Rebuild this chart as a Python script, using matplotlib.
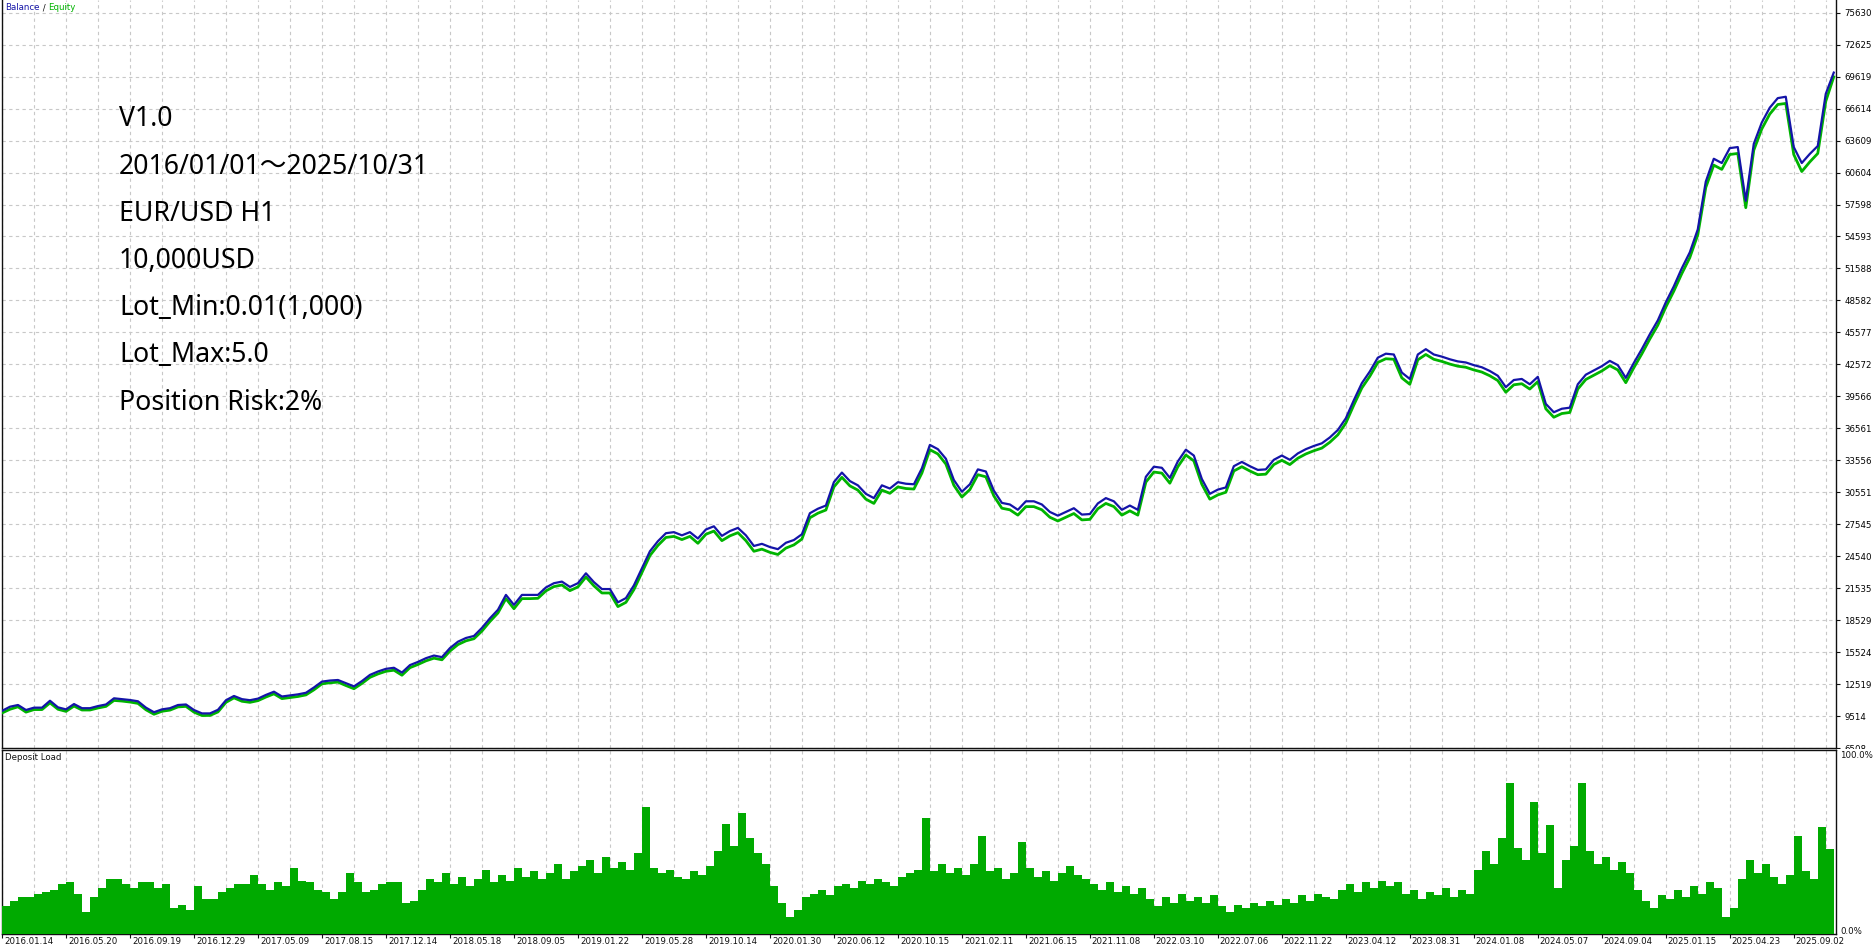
import numpy as np
import matplotlib
matplotlib.use("Agg")
import matplotlib.pyplot as plt
from matplotlib.patches import Rectangle
from matplotlib.transforms import offset_copy

# MT5 tester report: balance/equity curve + deposit load, x axis = deal number
balance = [10000, 10390, 10550, 10080, 10300, 10300, 10950, 10330, 10140, 10640,
           10250, 10250, 10450, 10600, 11180, 11100, 11020, 10900, 10300, 9870,
           10140, 10250, 10550, 10600, 10080, 9760, 9760, 10100, 11000, 11400,
           11100, 11000, 11150, 11500, 11800, 11350, 11450, 11550, 11700, 12200,
           12750, 12850, 12900, 12600, 12300, 12800, 13380, 13700, 13950, 14050,
           13600, 14300, 14600, 14950, 15200, 15050, 15900, 16500, 16850, 17040,
           17800, 18700, 19500, 20900, 19960, 20900, 20900, 20900, 21600, 22000,
           22150, 21650, 22000, 22930, 22100, 21450, 21450, 20200, 20600, 21800,
           23400, 25000, 25950, 26700, 26800, 26500, 26800, 26200, 27050, 27350,
           26450, 26900, 27200, 26500, 25500, 25700, 25400, 25200, 25800, 26060,
           26600, 28580, 29000, 29300, 31500, 32400, 31600, 31200, 30400, 30000,
           31200, 30900, 31500, 31350, 31300, 32800, 35000, 34600, 33700, 31700,
           30600, 31300, 32700, 32500, 30700, 29550, 29400, 28900, 29700, 29700,
           29400, 28700, 28350, 28700, 29050, 28450, 28500, 29500, 30000, 29700,
           28900, 29300, 28900, 32000, 32950, 32850, 31900, 33450, 34550, 34000,
           31800, 30400, 30800, 31000, 33000, 33400, 33000, 32650, 32700, 33600,
           34000, 33600, 34200, 34600, 34900, 35150, 35700, 36400, 37500, 39200,
           40800, 41900, 43200, 43575, 43500, 41800, 41200, 43500, 44000, 43500,
           43300, 43050, 42850, 42750, 42500, 42300, 41950, 41500, 40430, 41100,
           41200, 40700, 41400, 38860, 38070, 38400, 38500, 40700, 41600, 42000,
           42400, 42900, 42500, 41300, 42700, 44000, 45400, 46700, 48400, 49900,
           51600, 53100, 55260, 59750, 61900, 61500, 62900, 63000, 57950, 63300,
           65300, 66700, 67600, 67730, 63000, 61500, 62350, 63100, 68000, 70000]
equity = [9800, 10150, 10380, 9880, 10120, 10120, 10750, 10150, 9950, 10450,
          10080, 10080, 10270, 10420, 10980, 10920, 10830, 10700, 10100, 9680,
          9960, 10070, 10370, 10420, 9880, 9560, 9570, 9900, 10800, 11220,
          10900, 10800, 10960, 11300, 11600, 11150, 11250, 11350, 11500, 11980,
          12540, 12640, 12700, 12380, 12080, 12580, 13150, 13470, 13720, 13820,
          13350, 14060, 14360, 14700, 14950, 14800, 15620, 16230, 16580, 16780,
          17500, 18400, 19200, 20550, 19600, 20550, 20550, 20580, 21280, 21680,
          21830, 21300, 21650, 22580, 21750, 21080, 21080, 19800, 20200, 21400,
          23000, 24600, 25550, 26300, 26400, 26100, 26400, 25750, 26600, 26900,
          26000, 26450, 26750, 26000, 25000, 25200, 24900, 24700, 25300, 25600,
          26150, 28150, 28580, 28880, 31050, 31950, 31150, 30750, 29900, 29500,
          30750, 30450, 31050, 30900, 30850, 32350, 34550, 34150, 33200, 31200,
          30100, 30800, 32200, 32000, 30200, 29050, 28900, 28400, 29200, 29200,
          28900, 28200, 27850, 28200, 28550, 27950, 28000, 29000, 29500, 29200,
          28400, 28800, 28400, 31500, 32450, 32350, 31400, 32950, 34050, 33500,
          31300, 29900, 30300, 30550, 32550, 32950, 32550, 32200, 32250, 33150,
          33550, 33150, 33750, 34150, 34450, 34700, 35250, 35950, 37050, 38750,
          40350, 41450, 42750, 43100, 43050, 41300, 40700, 43000, 43500, 43050,
          42850, 42600, 42400, 42300, 42050, 41850, 41500, 41050, 39950, 40650,
          40750, 40250, 40950, 38400, 37600, 37950, 38050, 40250, 41150, 41550,
          41950, 42450, 42050, 40850, 42250, 43550, 44950, 46250, 47950, 49450,
          51100, 52600, 54750, 59200, 61300, 60900, 62300, 62400, 57300, 62700,
          64700, 66100, 67000, 67100, 62300, 60700, 61600, 62400, 67300, 69600]
deposit_load = [15, 18, 20, 20, 22, 23, 24, 27, 28, 22, 12, 20, 25, 30, 30, 27, 25, 28, 28, 25,
                27, 14, 16, 13, 26, 19, 19, 23, 25, 27, 27, 32, 27, 24, 28, 26, 36, 29, 28, 24,
                23, 19, 23, 33, 28, 23, 24, 27, 28, 28, 17, 18, 24, 30, 28, 33, 27, 31, 26, 30,
                35, 28, 32, 29, 36, 31, 34, 30, 33, 38, 30, 34, 37, 40, 33, 42, 36, 39, 35, 44,
                69, 36, 33, 35, 31, 30, 34, 32, 37, 45, 60, 48, 66, 52, 44, 38, 26, 17, 9, 13,
                20, 22, 24, 21, 26, 27, 25, 29, 27, 30, 28, 26, 31, 33, 35, 63, 34, 38, 33, 36,
                32, 38, 53, 34, 36, 30, 33, 50, 36, 31, 34, 29, 33, 37, 32, 30, 27, 24, 28, 23,
                26, 22, 25, 19, 15, 20, 17, 22, 18, 20, 17, 21, 15, 12, 16, 14, 17, 15, 18, 16,
                19, 17, 21, 18, 22, 20, 19, 24, 27, 23, 28, 25, 29, 26, 28, 22, 24, 19, 23, 21,
                25, 20, 24, 22, 35, 45, 38, 52, 82, 47, 40, 72, 44, 59, 25, 40, 48, 82, 45, 38,
                42, 35, 39, 33, 24, 18, 14, 21, 19, 24, 20, 26, 22, 28, 25, 9, 14, 30, 40, 33,
                38, 31, 27, 32, 53, 34, 30, 58, 46]

y_ticks = [75630, 72625, 69619, 66614, 63609, 60604, 57598, 54593, 51588, 48582, 45577, 42572,
           39566, 36561, 33556, 30551, 27545, 24540, 21535, 18529, 15524, 12519, 9514, 6508]
x_labels = ["2016.01.14", "2016.05.20", "2016.09.19", "2016.12.29", "2017.05.09", "2017.08.15",
            "2017.12.14", "2018.05.18", "2018.09.05", "2019.01.22", "2019.05.28", "2019.10.14",
            "2020.01.30", "2020.06.12", "2020.10.15", "2021.02.11", "2021.06.15", "2021.11.08",
            "2022.03.10", "2022.07.06", "2022.11.22", "2023.04.12", "2023.08.31", "2024.01.08",
            "2024.05.07", "2024.09.04", "2025.01.15", "2025.04.23", "2025.09.02"]
notes = ["V1.0", "2016/01/01～2025/10/31", "EUR/USD H1", "10,000USD",
         "Lot_Min:0.01(1,000)", "Lot_Max:5.0", "Position Risk:2%"]

BLUE, GREEN, BAR = "#1414a8", "#00b400", "#00aa00"
GRID = dict(color="#c8c8c8", ls=(0, (3, 3)), lw=0.8)
W, H = 1874, 948
X_END = 28.625     # last deal, in label periods
X_MAX = 28.66
TOP = 76824

fig = plt.figure(figsize=(W / 100, H / 100), dpi=100)
def box(l, t, r, b):
    return [l / W, 1 - b / H, (r - l) / W, (b - t) / H]

ax = fig.add_axes(box(2, 0, 1836, 748))
axd = fig.add_axes(box(2, 750, 1836, 934), sharex=ax)
axd.set_zorder(2)

xb = np.linspace(0, X_END, len(balance))
ax.plot(xb, equity, color=GREEN, lw=2.0, zorder=3)
ax.plot(xb, balance, color=BLUE, lw=1.6, zorder=4)

xd = np.linspace(0, X_END, len(deposit_load) + 1)
axd.bar(xd[:-1], deposit_load, width=np.diff(xd), align="edge", color=BAR, lw=0, zorder=3)

ax.set_xlim(0, X_MAX)
ax.set_ylim(6508, TOP)
axd.set_ylim(0, 100)

ax.set_xticks(np.arange(len(x_labels)))
ax.set_xticks(np.arange(0.5, X_MAX, 1), minor=True)
for a in (ax, axd):
    a.grid(True, which="both", axis="x", **GRID)
    for s in a.spines.values():
        s.set_color("#101010")
        s.set_linewidth(1.0)
    a.tick_params(axis="x", which="both", labelbottom=False, length=0)
ax.spines["top"].set_visible(False)
axd.tick_params(axis="x", which="major", length=3, direction="out", color="#101010")

ax.yaxis.tick_right()
ax.set_yticks(y_ticks)
ax.set_yticklabels([str(v) for v in y_ticks])
ax.tick_params(axis="y", length=3, labelsize=6.2, pad=3, color="#101010")
ax.grid(True, axis="y", **GRID)
axd.set_yticks([])

small = dict(fontsize=6.2, family="DejaVu Sans", color="#101010")
lab_tr = offset_copy(axd.get_xaxis_transform(), fig=fig, x=2, y=-3, units="dots")
for i, s in enumerate(x_labels):
    axd.text(i, 0, s, transform=lab_tr, ha="left", va="top", **small)
axd.text(1, 1, "100.0%", transform=offset_copy(axd.transAxes, fig=fig, x=4, y=-1, units="dots"),
         ha="left", va="top", **small)
axd.text(1, 0, "0.0%", transform=offset_copy(axd.transAxes, fig=fig, x=4, y=2, units="dots"),
         ha="left", va="center", **small)

# hide lower half of the bottom price label like the terminal does
fig.patches.append(Rectangle((1837 / W, 1 - 760 / H), 37 / W, 11 / H, transform=fig.transFigure,
                             facecolor="white", edgecolor="none", zorder=1))

t1 = fig.text(5 / W, 1 - 8 / H, "Balance", color=BLUE, va="center", fontsize=6.2)
an = ax.annotate(" / ", xy=(1, 0.5), xycoords=t1, va="center", fontsize=6.2, color="#101010",
                 annotation_clip=False)
ax.annotate("Equity", xy=(1, 0.5), xycoords=an, va="center", fontsize=6.2, color=GREEN,
            annotation_clip=False)
fig.text(5 / W, 1 - 758 / H, "Deposit Load", va="center", **small)

for i, s in enumerate(notes):
    fig.text(119 / W, 1 - (119.5 + 47.2 * i) / H, s, va="center", ha="left", fontsize=19.2,
             family=["Noto Sans", "Noto Sans CJK JP"], color="black")

fig.savefig("out.png", dpi=100, facecolor="white")
